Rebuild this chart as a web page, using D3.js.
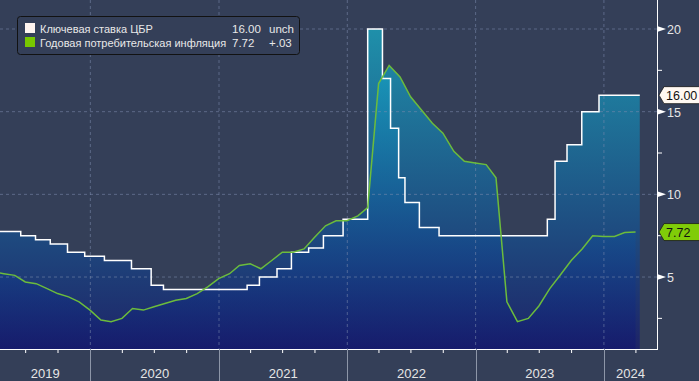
<!DOCTYPE html>
<html><head><meta charset="utf-8">
<script src="https://cdn.jsdelivr.net/npm/d3@7"></script>
<style>html,body{margin:0;padding:0;background:#343f58;}svg{display:block;}</style>
</head><body>
<svg id="c" width="699" height="381"></svg>
<script>
// Key rate of the CBR (step changes: date, value)
const rateDates = ["2019-03-01","2019-06-17","2019-07-29","2019-09-09","2019-10-28","2019-12-16","2020-02-10","2020-04-27","2020-06-22","2020-07-27","2021-03-22","2021-04-26","2021-06-15","2021-07-26","2021-09-13","2021-10-25","2021-12-20","2022-02-28","2022-04-11","2022-05-04","2022-05-27","2022-06-14","2022-07-25","2022-09-19","2023-07-24","2023-08-15","2023-09-18","2023-10-30","2023-12-18","2024-04-12"];
const rateValues = [7.75,7.5,7.25,7.0,6.5,6.25,6.0,5.5,4.5,4.25,4.5,5.0,5.5,6.5,6.75,7.5,8.5,20,17,14,11,9.5,8.0,7.5,8.5,12,13,15,16,16];
// Annual CPI inflation (month-end)
const inflMonths = ["2019-03","2019-04","2019-05","2019-06","2019-07","2019-08","2019-09","2019-10","2019-11","2019-12",
 "2020-01","2020-02","2020-03","2020-04","2020-05","2020-06","2020-07","2020-08","2020-09","2020-10","2020-11","2020-12",
 "2021-01","2021-02","2021-03","2021-04","2021-05","2021-06","2021-07","2021-08","2021-09","2021-10","2021-11","2021-12",
 "2022-01","2022-02","2022-03","2022-04","2022-05","2022-06","2022-07","2022-08","2022-09","2022-10","2022-11","2022-12",
 "2023-01","2023-02","2023-03","2023-04","2023-05","2023-06","2023-07","2023-08","2023-09","2023-10","2023-11","2023-12",
 "2024-01","2024-02","2024-03"];
const inflValues = [5.3,5.2,5.1,4.7,4.6,4.3,4.0,3.8,3.5,3.0,
 2.4,2.3,2.5,3.1,3.0,3.2,3.4,3.6,3.7,4.0,4.4,4.9,
 5.2,5.7,5.8,5.5,6.0,6.5,6.5,6.7,7.4,8.1,8.4,8.4,
 8.7,9.2,16.7,17.8,17.1,15.9,15.1,14.3,13.7,12.6,12.0,11.9,
 11.8,11.0,3.5,2.3,2.5,3.25,4.3,5.15,6.0,6.7,7.5,7.45,
 7.45,7.69,7.72];
const yTicks = [5,10,15,20];
const yMinor = [2.5,7.5,12.5,17.5];
const yearLabels = ["2019","2020","2021","2022","2023","2024"];
const legendNames = ["Ключевая ставка ЦБР","Годовая потребительская инфляция"];
const legendValues = ["16.00","7.72"];
const legendChanges = ["unch","+.03"];

const svg = d3.select("#c");
const W = 699, H = 381, plotR = 657, plotB = 349;
const parse = d3.timeParse("%Y-%m-%d");
const x = d3.scaleTime().domain([parse("2019-04-19"), parse("2024-05-31")]).range([0, plotR]);
const y = d3.scaleLinear().domain([0, 20]).range([359.7, 29]);

const rate = rateDates.map((d,i)=>({d:parse(d), v:rateValues[i]}));
const infl = inflMonths.map((m,i)=>{const dt=parse(m+"-01"); return {d:d3.timeDay.offset(d3.timeMonth.offset(dt,1),-1), v:inflValues[i]};});

svg.append("rect").attr("width",W).attr("height",H).attr("fill","#343f58");
const defs = svg.append("defs");
const g = defs.append("linearGradient").attr("id","grad").attr("gradientUnits","userSpaceOnUse")
  .attr("x1",0).attr("y1",29).attr("x2",0).attr("y2",plotB);
g.append("stop").attr("offset",0).attr("stop-color","rgb(22,178,205)");
g.append("stop").attr("offset",1).attr("stop-color","rgb(20,24,110)");
defs.append("clipPath").attr("id","clip").append("rect").attr("x",0).attr("y",0).attr("width",plotR).attr("height",plotB);

const plot = svg.append("g").attr("clip-path","url(#clip)");
const areaRate = d3.area().curve(d3.curveStepAfter).x(d=>x(d.d)).y0(plotB).y1(d=>y(d.v));
const areaInfl = d3.area().x(d=>x(d.d)).y0(plotB).y1(d=>y(d.v));
plot.append("path").datum(rate).attr("d",areaRate).attr("fill","url(#grad)").attr("fill-opacity",0.7);
plot.append("path").datum(infl).attr("d",areaInfl).attr("fill","url(#grad)").attr("fill-opacity",0.7);

// grid
const gridColor = "rgba(125,140,175,0.55)";
plot.selectAll(".hg").data(yTicks).join("line")
  .attr("x1",0).attr("x2",plotR).attr("y1",d=>y(d)).attr("y2",d=>y(d))
  .attr("stroke",gridColor).attr("stroke-dasharray","3,3");
const yearStarts = yearLabels.slice(1).map(s=>parse(s+"-01-01"));
plot.selectAll(".vg").data(yearStarts).join("line")
  .attr("x1",d=>x(d)).attr("x2",d=>x(d)).attr("y1",0).attr("y2",plotB)
  .attr("stroke",gridColor).attr("stroke-dasharray","3,3");

// lines
plot.append("path").datum(rate).attr("d",d3.line().curve(d3.curveStepAfter).x(d=>x(d.d)).y(d=>y(d.v)))
  .attr("fill","none").attr("stroke","#ffffff").attr("stroke-width",1.5);
plot.append("path").datum(infl).attr("d",d3.line().x(d=>x(d.d)).y(d=>y(d.v)))
  .attr("fill","none").attr("stroke","#6cbc3c").attr("stroke-width",1.5);

// right axis
const font = "'Liberation Sans', Arial, sans-serif";
svg.append("line").attr("x1",plotR+0.5).attr("x2",plotR+0.5).attr("y1",0).attr("y2",plotB).attr("stroke","#fff").attr("stroke-width",1);
svg.selectAll(".tri").data(yTicks).join("path")
  .attr("d",d=>`M${plotR},${y(d)-3}L${plotR+9},${y(d)}L${plotR},${y(d)+3}Z`).attr("fill","#fff");
svg.selectAll(".minor").data(yMinor).join("line")
  .attr("x1",plotR).attr("x2",plotR+5).attr("y1",d=>y(d)).attr("y2",d=>y(d)).attr("stroke","#fff");
svg.selectAll(".yl").data(yTicks).join("text")
  .attr("x",plotR+10).attr("y",d=>y(d)+5).text(d=>d)
  .attr("fill","#e6e6e6").attr("font-family",font).attr("font-size",12.5);

// bottom axis
svg.append("line").attr("x1",0).attr("x2",plotR+1).attr("y1",plotB+0.5).attr("y2",plotB+0.5).attr("stroke","#fff");
const quarters = d3.timeMonth.every(3).range(x.domain()[0], x.domain()[1]).filter(d=>d.getMonth()!==0);
svg.selectAll(".qt").data(quarters).join("line")
  .attr("x1",d=>x(d)).attr("x2",d=>x(d)).attr("y1",plotB).attr("y2",plotB+4).attr("stroke","#fff");
svg.selectAll(".ys").data(yearStarts).join("line")
  .attr("x1",d=>Math.round(x(d))+0.5).attr("x2",d=>Math.round(x(d))+0.5).attr("y1",plotB).attr("y2",H)
  .attr("stroke","#8d96a8");
svg.selectAll(".yrl").data(yearLabels).join("text")
  .attr("x",d=>{const a=Math.max(0,x(parse(d+"-01-01"))); const b=Math.min(plotR,x(parse((+d+1)+"-01-01"))); return (a+b)/2;})
  .attr("y",378).attr("text-anchor","middle").text(d=>d)
  .attr("fill","#e6e6e6").attr("font-family",font).attr("font-size",13);

// value tags
function tag(v, label, fill){
  const yy = y(v);
  svg.append("path").attr("d",`M${plotR+2},${yy}L${plotR+7},${yy-8.5}H${W+2}V${yy+8.5}H${plotR+7}Z`)
    .attr("fill",fill).attr("stroke","#1a1a1a").attr("stroke-width",0.8);
  svg.append("text").attr("x",plotR+9).attr("y",yy+4.5).text(label)
    .attr("fill","#111").attr("font-family",font).attr("font-size",12.5);
}
tag(rateValues[rateValues.length-1], legendValues[0], "#fff8f2");
tag(inflValues[inflValues.length-1], legendValues[1], "#80cc08");

// legend
const lg = svg.append("g");
lg.append("rect").attr("x",17.5).attr("y",16.5).attr("width",282).attr("height",38).attr("rx",3)
  .attr("fill","#343f58").attr("stroke","#121212");
const swatch = ["#fff4f0","#78c800"];
legendNames.forEach((n,i)=>{
  const yy = 23 + i*14;
  lg.append("rect").attr("x",25).attr("y",yy).attr("width",10).attr("height",10).attr("fill",swatch[i]);
  const ty = yy + 9.5;
  lg.append("text").attr("x",40).attr("y",ty).text(n).attr("fill","#e8e8e8").attr("font-family",font).attr("font-size",11);
  lg.append("text").attr("x",232).attr("y",ty).text(legendValues[i]).attr("fill","#e8e8e8").attr("font-family",font).attr("font-size",11.5);
  lg.append("text").attr("x",269).attr("y",ty).text(legendChanges[i]).attr("fill","#e8e8e8").attr("font-family",font).attr("font-size",11.5);
});
</script>
</body></html>
